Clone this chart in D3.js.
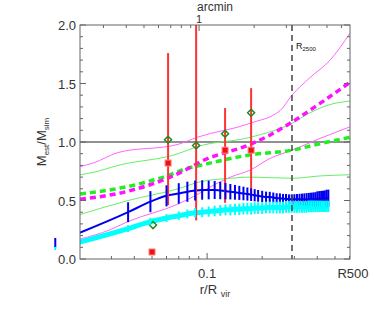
<!DOCTYPE html>
<html>
<head>
<meta charset="utf-8">
<script src="https://cdn.jsdelivr.net/npm/d3@7"></script>
<style>
  body { margin: 0; background: #fff; }
  svg { display: block; }
  text { font-family: "Liberation Sans", Arial, sans-serif; fill: #333; }
</style>
</head>
<body>
<svg width="374" height="311"></svg>
<script>
// radius in units of R_vir
const magentaUpper = [[0.0202, 0.79], [0.0238, 0.82], [0.0326, 0.91], [0.0694, 0.98], [0.0882, 1.04], [0.172, 1.16], [0.251, 1.27], [0.291, 1.40], [0.365, 1.55], [0.47, 1.70], [0.604, 1.93]];
const greenUpper = [[0.0202, 0.72], [0.0238, 0.74], [0.0326, 0.80], [0.0694, 0.90], [0.0882, 0.96], [0.172, 1.04], [0.291, 1.16], [0.365, 1.25], [0.47, 1.32], [0.604, 1.35]];
const magentaDash = [[0.0202, 0.51], [0.037, 0.58], [0.0628, 0.70], [0.076, 0.76], [0.0916, 0.83], [0.172, 0.98], [0.221, 1.06], [0.291, 1.17], [0.414, 1.33], [0.604, 1.51]];
const greenDash = [[0.0202, 0.555], [0.037, 0.62], [0.0628, 0.72], [0.076, 0.77], [0.0916, 0.80], [0.172, 0.89], [0.291, 0.93], [0.40, 0.98], [0.604, 1.04]];
const magentaLower = [[0.0202, 0.17], [0.0295, 0.25], [0.037, 0.32], [0.0694, 0.47], [0.0882, 0.55], [0.108, 0.63], [0.134, 0.70], [0.172, 0.76], [0.221, 0.86], [0.291, 0.93], [0.414, 1.03], [0.604, 1.13]];
const greenLower = [[0.0202, 0.38], [0.037, 0.50], [0.0694, 0.60], [0.0916, 0.66], [0.134, 0.69], [0.172, 0.70], [0.291, 0.69], [0.414, 0.71], [0.604, 0.72]];

// binned profiles with error bars
const binR = [0.0148, 0.037, 0.049, 0.060, 0.070, 0.078, 0.086, 0.094, 0.102, 0.110, 0.118, 0.126, 0.134, 0.142, 0.150, 0.158, 0.166, 0.174, 0.182, 0.190,
  0.20, 0.21, 0.22, 0.23, 0.24, 0.25, 0.26, 0.27, 0.28, 0.29, 0.30,
  0.31, 0.32, 0.33, 0.34, 0.35, 0.36, 0.37, 0.38, 0.39, 0.40, 0.41, 0.42, 0.43, 0.44, 0.45, 0.46];
const blueVal = [0.14, 0.40, 0.49, 0.54, 0.56, 0.575, 0.585, 0.59, 0.59, 0.59, 0.585, 0.58, 0.575, 0.57, 0.565, 0.56, 0.555, 0.55, 0.545, 0.54,
  0.535, 0.53, 0.53, 0.525, 0.52, 0.52, 0.515, 0.515, 0.51, 0.51, 0.51,
  0.51, 0.51, 0.51, 0.51, 0.51, 0.51, 0.51, 0.51, 0.51, 0.515, 0.515, 0.515, 0.515, 0.515, 0.52, 0.52];
const blueErr = [0.04, 0.085, 0.09, 0.09, 0.088, 0.086, 0.085, 0.083, 0.08, 0.077, 0.074, 0.07, 0.066, 0.063, 0.06, 0.058, 0.056, 0.054, 0.052, 0.05,
  0.048, 0.046, 0.044, 0.043, 0.042, 0.041, 0.041, 0.041, 0.042, 0.043, 0.044,
  0.045, 0.047, 0.049, 0.051, 0.053, 0.055, 0.057, 0.059, 0.061, 0.063, 0.065, 0.067, 0.069, 0.071, 0.072, 0.073];
const cyanVal = [0.09, 0.26, 0.32, 0.35, 0.37, 0.385, 0.395, 0.40, 0.405, 0.41, 0.415, 0.42, 0.42, 0.425, 0.425, 0.43, 0.43, 0.43, 0.435, 0.435,
  0.435, 0.44, 0.44, 0.44, 0.44, 0.44, 0.44, 0.445, 0.445, 0.445, 0.445,
  0.445, 0.445, 0.445, 0.445, 0.445, 0.45, 0.45, 0.45, 0.45, 0.45, 0.45, 0.45, 0.45, 0.45, 0.45, 0.45];
const cyanErr = [0.013, 0.03, 0.032, 0.034, 0.036, 0.038, 0.04, 0.042, 0.044, 0.045, 0.046, 0.047, 0.048, 0.048, 0.049, 0.049, 0.05, 0.05, 0.05, 0.05,
  0.05, 0.05, 0.05, 0.05, 0.05, 0.05, 0.05, 0.05, 0.05, 0.05, 0.05,
  0.05, 0.05, 0.05, 0.05, 0.05, 0.05, 0.05, 0.05, 0.049, 0.049, 0.049, 0.049, 0.048, 0.048, 0.048, 0.048];

// individual estimates
const redR = [0.050, 0.0612, 0.0871, 0.1254, 0.174];
const redVal = [0.06, 0.82, null, 0.93, 0.93];
const redLo = [null, 0.46, 0.33, 0.48, 0.52];
const redHi = [null, 1.76, 2.0, 1.29, 1.46];
const diamondVal = [0.29, 1.02, 0.97, 1.07, 1.25];

const r2500 = 0.291;
const arcminOne = 0.0904; // r/Rvir at 1 arcmin

const xMinor = [0.03, 0.04, 0.05, 0.06, 0.07, 0.08, 0.09, 0.2, 0.3, 0.4, 0.5, 0.6];
const topMinor = [0.3, 0.4, 0.5, 0.6, 0.7, 0.8, 0.9, 2, 3, 4, 5, 6];
const yMajor = [0, 0.5, 1, 1.5, 2];

const svg = d3.select("svg");
const pL = 80, pR = 350, pT = 25, pB = 259;

const x = d3.scaleLog().domain([0.0202, 0.604]).range([pL, pR]);
const xTop = d3.scaleLog().domain(x.domain().map((d) => d / arcminOne)).range([pL, pR]);
const y = d3.scaleLinear().domain([0, 2]).range([pB, pT]);

svg.append("defs").append("clipPath").attr("id", "plot")
  .append("rect").attr("x", pL).attr("y", pT).attr("width", pR - pL).attr("height", pB - pT);

const plot = svg.append("g").attr("clip-path", "url(#plot)");
const line = d3.line().x((d) => x(d[0])).y((d) => y(d[1])).curve(d3.curveMonotoneX);

// unity line
plot.append("line").attr("x1", pL).attr("x2", pR).attr("y1", y(1)).attr("y2", y(1))
  .attr("stroke", "#222").attr("stroke-width", 1);

// thin envelopes
[[magentaUpper, "#ff66ff"], [magentaLower, "#ff66ff"], [greenUpper, "#66ee66"], [greenLower, "#66ee66"]].forEach(([d, c]) => {
  plot.append("path").datum(d).attr("d", line).attr("fill", "none").attr("stroke", c).attr("stroke-width", 1);
});

// thick dashed medians
plot.append("path").datum(greenDash).attr("d", line).attr("fill", "none")
  .attr("stroke", "#22ee22").attr("stroke-width", 3.5).attr("stroke-dasharray", "6,4");
plot.append("path").datum(magentaDash).attr("d", line).attr("fill", "none")
  .attr("stroke", "#ff11ff").attr("stroke-width", 3.5).attr("stroke-dasharray", "6,4");

// blue profile
const blue = binR.map((r, i) => [r, blueVal[i]]);
const cyan = binR.map((r, i) => [r, cyanVal[i]]);
plot.append("path").datum(blue).attr("d", line).attr("fill", "none").attr("stroke", "#0000ee").attr("stroke-width", 2);
svg.append("g").selectAll("line").data(binR).enter().append("line")
  .attr("x1", (d) => x(d)).attr("x2", (d) => x(d))
  .attr("y1", (d, i) => y(blueVal[i] - blueErr[i])).attr("y2", (d, i) => y(blueVal[i] + blueErr[i]))
  .attr("stroke", "#0000ee").attr("stroke-width", 2);

// cyan profile
plot.append("path").datum(cyan).attr("d", line).attr("fill", "none").attr("stroke", "#00ffff").attr("stroke-width", 5);
svg.append("g").selectAll("line").data(binR).enter().append("line")
  .attr("x1", (d) => x(d)).attr("x2", (d) => x(d))
  .attr("y1", (d, i) => y(cyanVal[i] - cyanErr[i])).attr("y2", (d, i) => y(cyanVal[i] + cyanErr[i]))
  .attr("stroke", "#00ffff").attr("stroke-width", 2);

// R2500 marker
svg.append("line").attr("x1", x(r2500)).attr("x2", x(r2500)).attr("y1", pT).attr("y2", pB)
  .attr("stroke", "#444").attr("stroke-width", 1.5).attr("stroke-dasharray", "6,4");
const rl = svg.append("text").attr("x", x(r2500) + 4).attr("y", 49).attr("font-size", 9).style("fill", "#111");
rl.append("tspan").text("R");
rl.append("tspan").attr("font-size", 6).attr("dy", 2).text("2500");

// red error bars and markers
redR.forEach((r, i) => {
  if (redLo[i] != null) {
    plot.append("line").attr("x1", x(r)).attr("x2", x(r)).attr("y1", y(redLo[i])).attr("y2", y(redHi[i]))
      .attr("stroke", "#ff3333").attr("stroke-width", 2);
  }
});
redR.forEach((r, i) => {
  if (redVal[i] != null) {
    const cx = x(r), cy = y(redVal[i]);
    plot.append("rect").attr("x", cx - 3).attr("y", cy - 3).attr("width", 6).attr("height", 6)
      .attr("fill", "#ee1111").attr("stroke", "#ff8080").attr("stroke-width", 1);
  }
  const cx = x(r) + (i === 0 ? 1 : 0), cy = y(diamondVal[i]);
  plot.append("path").attr("d", `M${cx},${cy - 3.5}L${cx + 3.5},${cy}L${cx},${cy + 3.5}L${cx - 3.5},${cy}Z`)
    .attr("fill", "none").attr("stroke", "#1e8a1e").attr("stroke-width", 1.5);
});

// frame and ticks
const axis = svg.append("g").attr("stroke", "#666").attr("stroke-width", 1);
axis.append("rect").attr("x", pL).attr("y", pT).attr("width", pR - pL).attr("height", pB - pT).attr("fill", "none");

const tick = (x1, y1, x2, y2) => axis.append("line").attr("x1", x1).attr("y1", y1).attr("x2", x2).attr("y2", y2);

xMinor.forEach((v) => { tick(x(v), pB, x(v), pB - 3); });
tick(x(0.1), pB, x(0.1), pB - 6);
topMinor.forEach((v) => { tick(xTop(v), pT, xTop(v), pT + 3); });
tick(xTop(1), pT, xTop(1), pT + 6);

y.ticks(20).forEach((v) => {
  const len = yMajor.includes(v) ? 6 : 3;
  tick(pL, y(v), pL + len, y(v));
  tick(pR, y(v), pR - len, y(v));
});

// labels
svg.append("g").selectAll("text").data(yMajor).enter().append("text")
  .attr("x", pL - 4).attr("y", (d) => y(d) + 5).attr("text-anchor", "end").attr("font-size", 13)
  .text((d) => d.toFixed(1));

svg.append("text").attr("x", x(0.1)).attr("y", 278).attr("text-anchor", "middle").attr("font-size", 13).text("0.1");
svg.append("text").attr("x", pR + 3).attr("y", 278).attr("text-anchor", "middle").attr("font-size", 13).text("R500");

svg.append("text").attr("x", xTop(1)).attr("y", 23).attr("text-anchor", "middle").attr("font-size", 11).text("1");
svg.append("text").attr("x", (pL + pR) / 2).attr("y", 11).attr("text-anchor", "middle").attr("font-size", 12).text("arcmin");

const xl = svg.append("text").attr("x", (pL + pR) / 2).attr("y", 294).attr("text-anchor", "middle").attr("font-size", 13);
xl.append("tspan").text("r/R ");
xl.append("tspan").attr("font-size", 9).attr("dy", 3).text("vir");

const yl = svg.append("text").attr("transform", `translate(46,${(pT + pB) / 2}) rotate(-90)`)
  .attr("text-anchor", "middle").attr("font-size", 13);
yl.append("tspan").text("M");
yl.append("tspan").attr("font-size", 8).attr("dy", 3).text("est");
yl.append("tspan").attr("dy", -3).text("/M");
yl.append("tspan").attr("font-size", 8).attr("dy", 3).text("sim");
</script>
</body>
</html>
